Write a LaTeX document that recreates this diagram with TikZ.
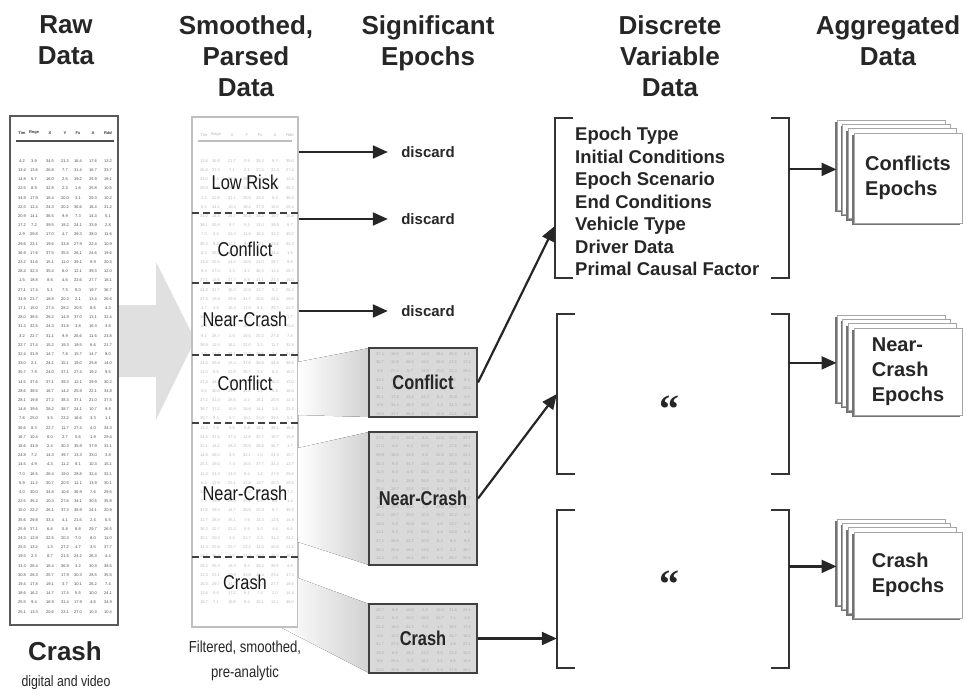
\documentclass[tikz,border=0pt]{standalone}
\usepackage{fontspec}
\setmainfont{Liberation Sans}
\newfontfamily\narrowfont[FakeStretch=0.82]{Liberation Sans}
\newfontfamily\quotefont{Liberation Serif}
\usetikzlibrary{arrows.meta,positioning,shadows}
\begin{document}
\begin{tikzpicture}[x=1pt,y=-1pt,
  head/.style={font=\bfseries\fontsize{26}{31}\selectfont,align=center,anchor=north,inner sep=0pt,text=black!85},
  seg/.style={font=\narrowfont\fontsize{20}{22}\selectfont,inner sep=1pt,text=black!90},
  digits/.style={font=\fontsize{4}{5}\selectfont,inner sep=0pt},
  divider/.style={black!75,line width=1.5pt,dash pattern=on 7pt off 4pt},
  arr/.style={black!85,line width=2.2pt,-{Triangle[length=15pt,width=13pt]}},
  epochbox/.style={draw=black!75,fill=black!15,line width=2pt,minimum width=108pt,inner sep=0pt},
  epochlbl/.style={font=\narrowfont\bfseries\fontsize{20}{22}\selectfont,inner sep=0pt,text=black!85},
  discard/.style={font=\bfseries\fontsize{15}{18}\selectfont,text=black!85},
  brk/.style={black!80,line width=2pt},
  layer/.style={draw=black!35,fill=white,line width=0.8pt,minimum width=108pt,minimum height=88pt,
    drop shadow={shadow xshift=-2pt,shadow yshift=-2pt,opacity=1,fill=black!55}},
  agglbl/.style={font=\bfseries\fontsize{20}{25}\selectfont,align=left,text=black!85},
  funnel/.style={left color=white,right color=black!18,draw=none}
]
\pgfmathsetseed{7}
\useasboundingbox (0,0) rectangle (967,695);
% column heads
\node[head] (hraw) at (66,15) {Raw\\Data};
\node[head] (hsmooth) at (246,15) {Smoothed,\\Parsed\\Data};
\node[head] (hsig) at (428,15) {Significant\\Epochs};
\node[head] (hdisc) at (670,15) {Discrete\\Variable\\Data};
\node[head] (hagg) at (888,15) {Aggregated\\Data};
% big arrow
\fill[black!12] (118,305) -- (156,305) -- (156,262) -- (195,340) -- (156,420) -- (156,377) -- (118,377) -- cycle;
% raw data
\node[draw=black!65,fill=white,line width=1.5pt,minimum width=108pt,minimum height=509pt] (raw) at (64,370.5) {};
\foreach \cx/\h [count=\c] in {22/Tim,34/Rnge,50/X,65/Y,78/Fx,93/A,108/Rdd}
  \node[digits,font=\bfseries\fontsize{4}{5}\selectfont,text=black!80] (rawh-\c) at (\cx,133) {\h};
\draw[black!70,line width=1.2pt] (16,141) -- (114,141);
\foreach \r in {0,...,49}
  \foreach \cx [count=\c] in {22,34,50,65,78,93,108}{
    \pgfmathtruncatemacro\n{random(1,39)}
    \pgfmathtruncatemacro\m{random(0,9)}
    \node[digits,text=black!70] (raw-\r-\c) at (\cx,161+9.2*\r) {\n.\m};
  }
\node[font=\bfseries\fontsize{26}{30}\selectfont,text=black!85] (rawlbl) at (65,651) {Crash};
\node[font=\narrowfont\fontsize{15}{18}\selectfont,text=black!85] (rawsub) at (66,683) {digital and video};
% smoothed, parsed data
\node[draw=black!25,fill=white,line width=1.2pt,minimum width=106pt,minimum height=510pt] (smooth) at (245,372) {};
\foreach \cx/\h [count=\c] in {204/Tim,216/Rnge,232/X,247/Y,260/Fx,275/A,290/Rdd}
  \node[digits,text=black!30] (smoothh-\c) at (\cx,135) {\h};
\draw[black!25,line width=1.2pt] (198,141) -- (292,141);
\foreach \r in {0,...,48}
  \foreach \cx [count=\c] in {204,216,232,247,260,275,290}{
    \pgfmathtruncatemacro\n{random(1,39)}
    \pgfmathtruncatemacro\m{random(0,9)}
    \node[digits,text=black!28] (smooth-\r-\c) at (\cx,161+9.2*\r) {\n.\m};
  }
\foreach \dy in {213,283,355,423,557}
  \draw[divider] (192,\dy) -- (298,\dy);
\node[seg] (lowrisk) at (245,182) {Low Risk};
\node[seg] (conf1) at (245,249) {Conflict};
\node[seg] (near1) at (245,319) {Near-Crash};
\node[seg] (conf2) at (245,383) {Conflict};
\node[seg] (near2) at (245,493) {Near-Crash};
\node[seg] (crash) at (245,582) {Crash};
\node[font=\narrowfont\fontsize{16}{25}\selectfont,align=center,text=black!85] (smoothsub) at (245,661) {Filtered, smoothed,\\pre-analytic};
% discards
\node[discard] (disc1) at (428,152) {discard};
\node[discard] (disc2) at (428,219) {discard};
\node[discard] (disc3) at (428,311) {discard};
\foreach \d in {disc1,disc2,disc3}
  \draw[arr] (smooth.east |- \d) -- ([xshift=-10pt]\d.west);
% significant epochs
\fill[funnel] (298,362) -- (369,348) -- (369,417) -- (298,415) -- cycle;
\fill[funnel] (298,448) -- (369,432) -- (369,565) -- (298,542) -- cycle;
\fill[funnel] (298,578) -- (369,604) -- (369,673) -- (282,628) -- (298,628) -- cycle;
\node[epochbox,minimum height=69pt] (sigc) at (423,382.5) {};
\node[epochbox,minimum height=133pt] (sign) at (423,498.5) {};
\node[epochbox,minimum height=69pt] (sigx) at (423,638.5) {};
\foreach \b/\y/\k in {sigc/354/7,sign/438/14,sigx/610/7}
  \foreach \r in {0,...,\k}
    \foreach \cx [count=\c] in {380,395,410,425,440,453,467}{
      \pgfmathtruncatemacro\n{random(1,39)}
      \pgfmathtruncatemacro\m{random(0,9)}
      \node[digits,text=black!32] (\b-\r-\c) at (\cx,\y+8.6*\r) {\n.\m};
    }
\node[epochlbl] (sigcl) at (sigc) {Conflict};
\node[epochlbl] (signl) at (sign) {Near-Crash};
\node[epochlbl] (sigxl) at (sigx) {Crash};
% discrete variable data
\node[minimum width=234pt,minimum height=160pt] (dv1) at (672,198) {};
\node[minimum width=232pt,minimum height=160pt] (dv2) at (673,394) {};
\node[minimum width=232pt,minimum height=158pt] (dv3) at (673,589) {};
\foreach \b in {dv1,dv2,dv3}
  \draw[brk] ([xshift=18pt]\b.north west) -- (\b.north west) -- (\b.south west) -- ([xshift=18pt]\b.south west)
    ([xshift=-18pt]\b.north east) -- (\b.north east) -- (\b.south east) -- ([xshift=-18pt]\b.south east);
\node[font=\bfseries\fontsize{18.5}{22.5}\selectfont,align=left,anchor=north west,inner sep=0pt,text=black!85] (vars) at (575,127)
  {Epoch Type\\Initial Conditions\\Epoch Scenario\\End Conditions\\Vehicle Type\\Driver Data\\Primal Causal Factor};
\node[font=\quotefont\bfseries\fontsize{40}{40}\selectfont,text=black!85] (ditto2) at (669,409) {“};
\node[font=\quotefont\bfseries\fontsize{40}{40}\selectfont,text=black!85] (ditto3) at (669,584) {“};
\draw[arr] (sigc.east) -- ([yshift=-28pt]dv1.west);
\draw[arr] (sign.east) -- (dv2.west);
\draw[arr] (sigx.east) -- (sigx.east -| dv3.west);
% aggregated data
\foreach \k in {3,2,1,0}{
  \node[layer,minimum height=90pt] (agg1-\k) at (908-5.7*\k,178-4.3*\k) {};
  \node[layer,minimum height=87pt] (agg2-\k) at (908-5.7*\k,371.5-4.3*\k) {};
  \node[layer,minimum height=86pt] (agg3-\k) at (908-5.7*\k,575-4.3*\k) {};
}
\node[agglbl] (agg1t) at (agg1-0) {Conflicts\\Epochs};
\node[agglbl] (agg2t) at (agg2-0) {Near-\\Crash\\Epochs};
\node[agglbl] (agg3t) at (agg3-0) {Crash\\Epochs};
\draw[arr] (dv1.east |- agg1-2) -- (agg1-3.west |- agg1-2);
\draw[arr] (dv2.east |- agg2-2) -- (agg2-3.west |- agg2-2);
\draw[arr] (dv3.east |- agg3-2) -- (agg3-3.west |- agg3-2);
\end{tikzpicture}
\end{document}
